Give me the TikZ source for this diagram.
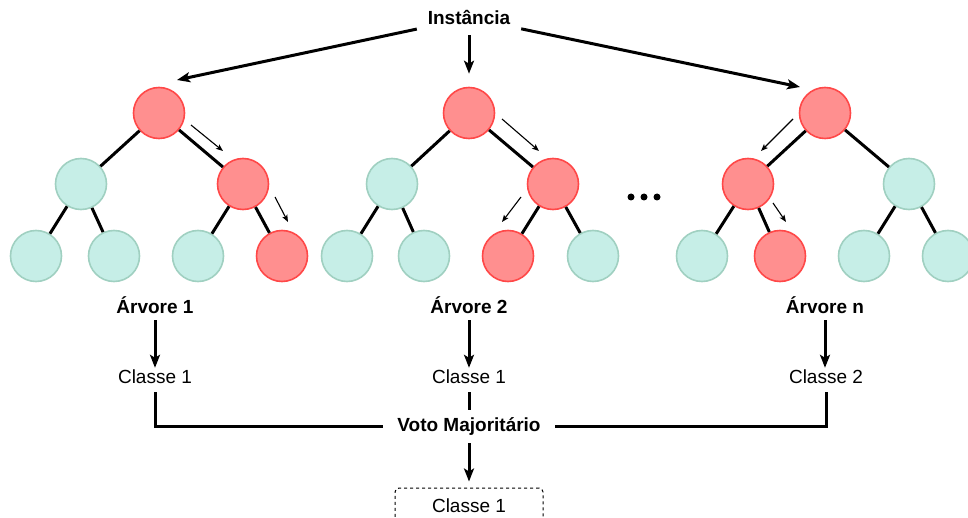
\documentclass[tikz,border=0pt]{standalone}
\usepackage{fontspec}
\setmainfont{Liberation Sans}
\usetikzlibrary{arrows.meta}
\definecolor{redfill}{RGB}{255,143,143}
\definecolor{redline}{RGB}{255,72,72}
\definecolor{tealfill}{RGB}{198,238,231}
\definecolor{tealline}{RGB}{160,208,193}
\tikzset{
  hot/.style={circle,inner sep=0pt,minimum size=51pt,fill=redfill,draw=redline,line width=1.6pt},
  cold/.style={circle,inner sep=0pt,minimum size=51pt,fill=tealfill,draw=tealline,line width=1.6pt},
  edge/.style={line width=3pt,black},
  bigarrow/.style={line width=3pt,-{Stealth[length=13pt,width=10pt,inset=3pt]}},
  thinarrow/.style={line width=1.1pt,-{Stealth[length=7pt,width=5.5pt,inset=1.5pt]}},
  lbl/.style={font=\fontsize{19}{23}\selectfont,inner sep=0pt},
  blbl/.style={font=\fontsize{19}{23}\selectfont\bfseries,inner sep=0pt},
  dot/.style={circle,fill=black,inner sep=0pt,minimum size=7pt}
}
\begin{document}
\begin{tikzpicture}[x=1pt,y=-1pt]
\useasboundingbox (0,0) rectangle (968,518);
\clip (0,0) rectangle (968,518);
% title
\node[blbl,minimum width=104pt,minimum height=34pt] (inst) at (469,18) {Instância};
% tree 1
\node[hot]  (r1) at (159,113) {};
\node[cold] (a1) at (81,184) {};
\node[hot]  (b1) at (243,184) {};
\node[cold] (l11) at (36,256) {};
\node[cold] (l12) at (114,256) {};
\node[cold] (l13) at (198,256) {};
\node[hot]  (l14) at (282,256) {};
% tree 2
\node[hot]  (r2) at (469,113) {};
\node[cold] (a2) at (392,184) {};
\node[hot]  (b2) at (553,184) {};
\node[cold] (l21) at (347,256) {};
\node[cold] (l22) at (424,256) {};
\node[hot]  (l23) at (508,256) {};
\node[cold] (l24) at (593,256) {};
% tree 3
\node[hot]  (r3) at (825,113) {};
\node[hot]  (a3) at (748,184) {};
\node[cold] (b3) at (909,184) {};
\node[cold] (l31) at (702,256) {};
\node[hot]  (l32) at (780,256) {};
\node[cold] (l33) at (864,256) {};
\node[cold] (l34) at (948,256) {};
% tree edges
\draw[edge] (r1) -- (a1); \draw[edge] (r1) -- (b1);
\draw[edge] (a1) -- (l11); \draw[edge] (a1) -- (l12);
\draw[edge] (b1) -- (l13); \draw[edge] (b1) -- (l14);
\draw[edge] (r2) -- (a2); \draw[edge] (r2) -- (b2);
\draw[edge] (a2) -- (l21); \draw[edge] (a2) -- (l22);
\draw[edge] (b2) -- (l23); \draw[edge] (b2) -- (l24);
\draw[edge] (r3) -- (a3); \draw[edge] (r3) -- (b3);
\draw[edge] (a3) -- (l31); \draw[edge] (a3) -- (l32);
\draw[edge] (b3) -- (l33); \draw[edge] (b3) -- (l34);
% arrows from Instancia
\coordinate (t1) at (177,80);
\coordinate (t3) at (800,87);
\draw[bigarrow] (inst) -- (t1);
\draw[bigarrow,shorten >=13pt] (inst) -- (r2);
\draw[bigarrow] (inst) -- (t3);
% thin path arrows
\coordinate (p1s) at (191,125); \coordinate (p1e) at (223,151);
\coordinate (p2s) at (275,197); \coordinate (p2e) at (288,222);
\coordinate (p3s) at (502,119); \coordinate (p3e) at (539,151);
\coordinate (p4s) at (521,197); \coordinate (p4e) at (502,222);
\coordinate (p5s) at (793,119); \coordinate (p5e) at (761,151);
\coordinate (p6s) at (773,203); \coordinate (p6e) at (786,222);
\draw[thinarrow] (p1s) -- (p1e);
\draw[thinarrow] (p2s) -- (p2e);
\draw[thinarrow] (p3s) -- (p3e);
\draw[thinarrow] (p4s) -- (p4e);
\draw[thinarrow] (p5s) -- (p5e);
\draw[thinarrow] (p6s) -- (p6e);
% dots
\node[dot] (d1) at (631,197) {};
\node[dot] (d2) at (644,197) {};
\node[dot] (d3) at (657,197) {};
% tree labels
\node[blbl,minimum height=30pt] (t1l) at (155,305) {Árvore 1};
\node[blbl,minimum height=30pt] (t2l) at (469,305) {Árvore 2};
\node[blbl,minimum height=30pt] (t3l) at (825,305) {Árvore n};
% classes
\node[lbl,minimum height=30pt] (c1) at (155,377) {Classe 1};
\node[lbl,minimum height=30pt] (c2) at (469,377) {Classe 1};
\node[lbl,minimum height=30pt] (c3) at (826,377) {Classe 2};
\draw[bigarrow,shorten >=-6pt] (t1l) -- (c1);
\draw[bigarrow,shorten >=-6pt] (t2l) -- (c2);
\draw[bigarrow,shorten >=-6pt] (t3l.south) -- (t3l.south |- c3.north);
% vote
\node[blbl,minimum width=172pt,minimum height=33pt] (voto) at (469,426.5) {Voto Majoritário};
\draw[edge] (c1.south) |- (voto.west);
\draw[edge] (c3.south) |- (voto.east);
\draw[edge] (c2) -- (voto);
% result
\node[lbl,draw,dashed,dash pattern=on 3pt off 3pt,line width=1pt,rounded corners=4pt,minimum width=148pt,minimum height=36pt] (res) at (469,506) {Classe 1};
\draw[bigarrow,shorten >=6pt] (voto) -- (res);
\end{tikzpicture}
\end{document}
